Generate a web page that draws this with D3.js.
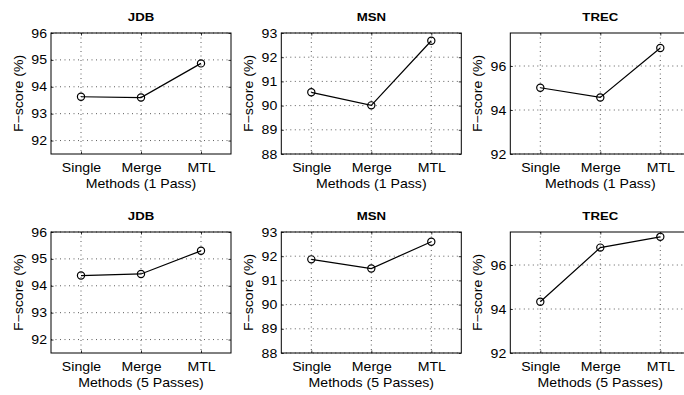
<!DOCTYPE html>
<html>
<head>
<meta charset="utf-8">
<script src="https://cdn.jsdelivr.net/npm/d3@7"></script>
<style>
  body { margin: 0; background: #fff; }
  text { font-family: "Liberation Sans", Arial, Helvetica, sans-serif; fill: #000; }
</style>
</head>
<body>
<div id="chart"></div>
<script>
const methods = ['Single', 'Merge', 'MTL'];
const datasets = ['JDB', 'MSN', 'TREC'];
const passLabels = ['Methods (1 Pass)', 'Methods (5 Passes)'];

// F-score per method, [1 pass, 5 passes]
const jdbScores = [[93.63, 93.60, 94.87], [94.38, 94.44, 95.30]];
const msnScores = [[90.55, 90.01, 92.68], [91.87, 91.49, 92.60]];
const trecScores = [[95.01, 94.57, 96.82], [94.33, 96.79, 97.28]];

const jdbTicks = [92, 93, 94, 95, 96];
const msnTicks = [88, 89, 90, 91, 92, 93];
const trecTicks = [92, 94, 96];

const yDomains = [[91.5, 96], [88, 93], [92, 97.5]];

const W = 684, H = 395;
const panelLeft = [51, 281.3, 510.3],
	panelTop = [33, 232],
	pw = 180, ph = 121;
const fs = 12.5, sx = 1.13; // glyphs in the figure are a bit wide

const scores = [jdbScores, msnScores, trecScores];
const ticks = [jdbTicks, msnTicks, trecTicks];

const svg = d3.select('#chart')
	.append('svg')
	.attr('width', W)
	.attr('height', H);

for (let r = 0; r < 2; r++) {
	for (let c = 0; c < 3; c++) {
		const g = svg.append('g')
			.attr('transform', 'translate(' + panelLeft[c] + ',' + panelTop[r] + ')');

		const x = d3.scaleLinear().domain([0.5, 3.5]).range([0, pw]);
		const y = d3.scaleLinear().domain(yDomains[c]).range([ph, 0]);

		// dotted grid
		g.append('g').selectAll('line')
			.data(methods)
			.join('line')
			.attr('x1', (d, i) => x(i + 1)).attr('x2', (d, i) => x(i + 1))
			.attr('y1', 0).attr('y2', ph)
			.attr('stroke', '#333').attr('stroke-width', 0.8)
			.attr('stroke-dasharray', '1,3.5');
		g.append('g').selectAll('line')
			.data(ticks[c])
			.join('line')
			.attr('x1', 0).attr('x2', pw)
			.attr('y1', d => y(d)).attr('y2', d => y(d))
			.attr('stroke', '#333').attr('stroke-width', 0.8)
			.attr('stroke-dasharray', '1,3.5');

		// axes (inward ticks, matlab style)
		const xAxis = g.append('g')
			.attr('transform', 'translate(0,' + ph + ')')
			.call(d3.axisBottom(x).tickValues([1, 2, 3])
				.tickFormat((d, i) => methods[i]).tickSize(-2.5).tickPadding(9));
		const yAxis = g.append('g')
			.call(d3.axisLeft(y).tickValues(ticks[c]).tickFormat(d3.format('d'))
				.tickSize(-2.5).tickPadding(4));
		g.append('g')
			.call(d3.axisTop(x).tickValues([1, 2, 3]).tickFormat('').tickSize(-2.5));
		g.append('g')
			.attr('transform', 'translate(' + pw + ',0)')
			.call(d3.axisRight(y).tickValues(ticks[c]).tickFormat('').tickSize(-2.5));

		svg.selectAll('.domain').remove();
		g.selectAll('.tick line').attr('stroke', '#000').attr('stroke-width', 0.8);

		xAxis.selectAll('text')
			.attr('font-size', fs)
			.attr('dy', '0.71em')
			.attr('transform', 'scale(' + sx + ',1)');
		yAxis.selectAll('text')
			.attr('font-size', fs)
			.attr('x', -4 / sx)
			.attr('transform', 'scale(' + sx + ',1)');

		// box
		g.append('rect')
			.attr('width', pw).attr('height', ph)
			.attr('fill', 'none')
			.attr('stroke', '#000').attr('stroke-width', 1);

		// series
		const vals = scores[c][r];
		g.append('path')
			.datum(vals)
			.attr('fill', 'none')
			.attr('stroke', '#000')
			.attr('stroke-width', 1.2)
			.attr('d', d3.line()
				.x((d, i) => x(i + 1))
				.y(d => y(d)));
		g.selectAll('circle')
			.data(vals)
			.join('circle')
			.attr('cx', (d, i) => x(i + 1))
			.attr('cy', d => y(d))
			.attr('r', 3.6)
			.attr('fill', 'none')
			.attr('stroke', '#000')
			.attr('stroke-width', 1.2);

		// title
		g.append('text')
			.attr('transform', 'translate(' + (pw / 2) + ',-12.5) scale(1.2,1)')
			.attr('text-anchor', 'middle')
			.attr('font-size', 11)
			.attr('font-weight', 'bold')
			.text(datasets[c]);

		// axis labels
		g.append('text')
			.attr('transform', 'translate(' + (pw / 2) + ',' + (ph + 33.5) + ') scale(' + sx + ',1)')
			.attr('text-anchor', 'middle')
			.attr('font-size', fs)
			.text(passLabels[r]);
		g.append('text')
			.attr('transform', 'translate(-28.5,' + (ph / 2) + ') rotate(-90) scale(' + sx + ',1)')
			.attr('text-anchor', 'middle')
			.attr('font-size', fs)
			.text('F\u2212score (%)');
	}
}
</script>
</body>
</html>
